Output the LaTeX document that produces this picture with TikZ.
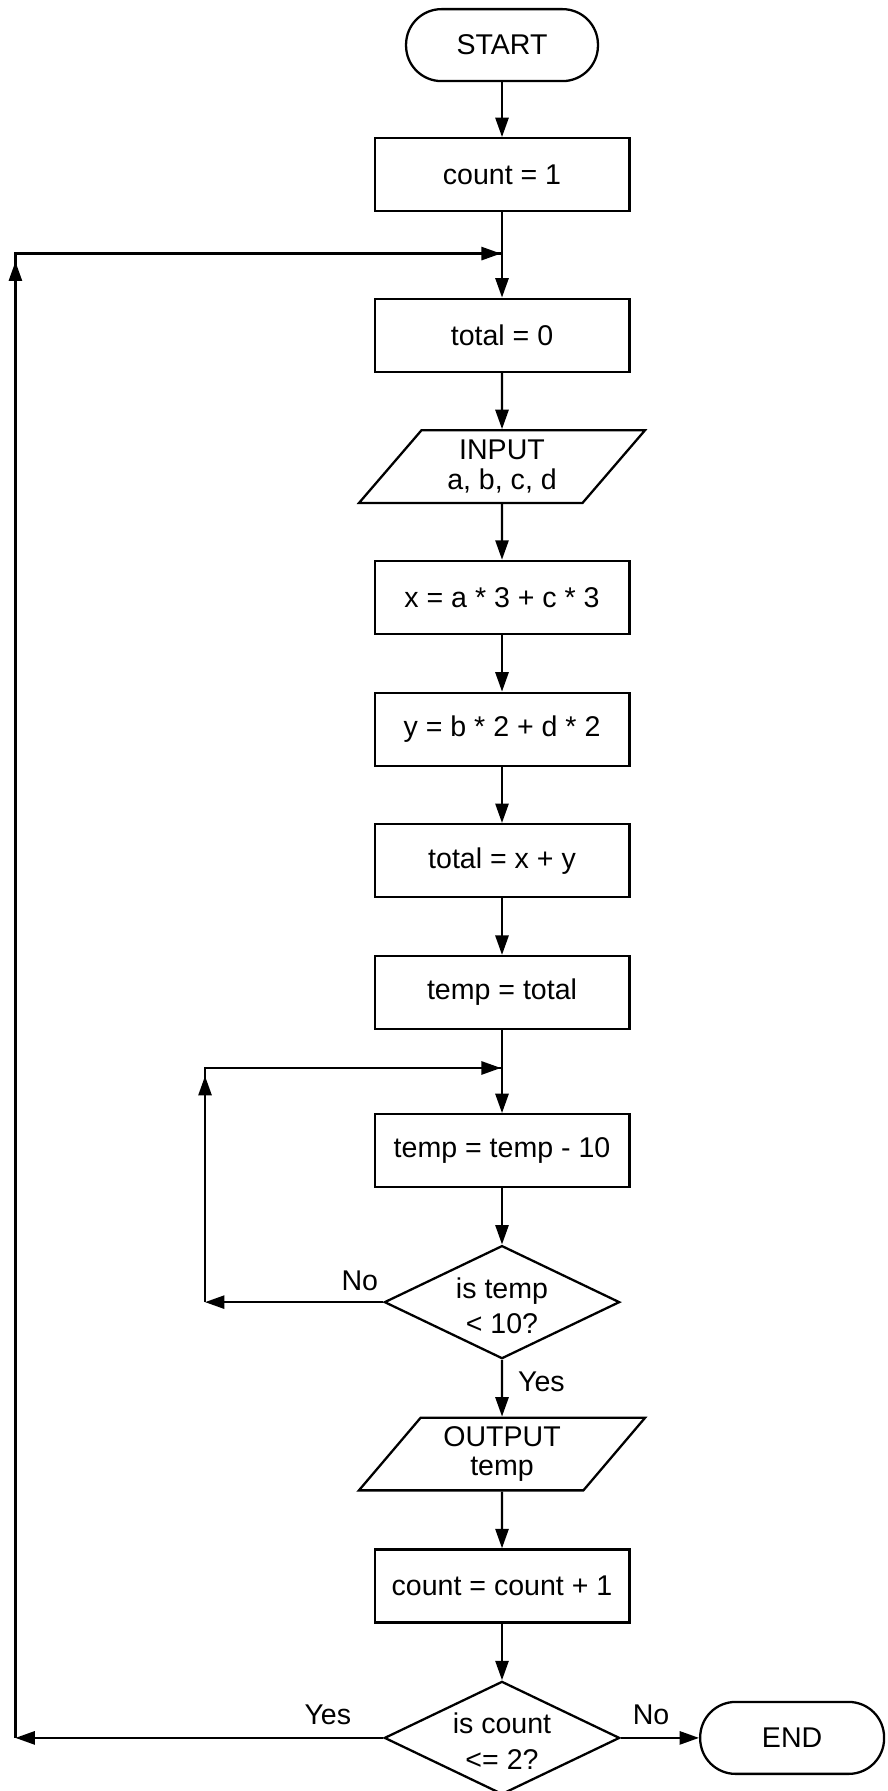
\documentclass[tikz,border=0pt]{standalone}
\usepackage{fontspec}
\setmainfont{Liberation Sans}
\usetikzlibrary{shapes.geometric,arrows.meta}
\begin{document}
\begin{tikzpicture}[x=1pt,y=-1pt,
  every node/.style={font=\fontsize{25}{26}\selectfont},
  proc/.style={draw,line width=2pt,minimum width=223pt,minimum height=64pt,inner sep=0pt},
  term/.style={draw,line width=2pt,rounded corners=31pt,minimum height=63pt,inner sep=0pt},
  io/.style={draw,line width=2pt,trapezium,trapezium left angle=51.3,trapezium right angle=128.7,
    trapezium stretches=true,minimum width=251pt,minimum height=63.6pt,inner sep=0pt,align=center},
  dec/.style={draw,line width=2pt,diamond,minimum width=206pt,minimum height=99pt,inner sep=0pt},
  dectext/.style={align=center,font=\fontsize{25}{31}\selectfont,inner sep=0pt,yshift=-3pt},
  flow/.style={line width=2pt,-{Triangle[length=17pt,width=11.5pt]}},
  plain/.style={line width=2pt},
  lbl/.style={inner sep=0pt}
]
\useasboundingbox (0,0) rectangle (777,1568);

\node[term,minimum width=168pt] (start) at (439.5,39.5) {START};
\node[proc] (c1) at (439.5,153) {count = 1};
\node[proc] (t0) at (439.5,293.5) {total = 0};
\node[io] (inp) at (439.5,408.5) {INPUT\\a, b, c, d};
\node[proc] (px) at (439.5,523) {x = a * 3 + c * 3};
\node[proc] (py) at (439.5,638.5) {y = b * 2 + d * 2};
\node[proc] (tot) at (439.5,753.5) {total = x + y};
\node[proc] (tmp) at (439.5,869) {temp = total};
\node[proc] (sub) at (439.5,1007.5) {temp = temp - 10};
\node[dec,label={[dectext]center:is temp\\< 10?}] (d1) at (439.5,1140) {};
\node[io] (out) at (439.5,1273) {OUTPUT\\temp};
\node[proc] (inc) at (439.5,1388.5) {count = count + 1};
\node[dec,label={[dectext]center:is count\\<= 2?}] (d2) at (439.5,1521.5) {};
\node[term,minimum width=161pt] (end) at (693.5,1521.5) {END};

\node[lbl] (no1) at (315,1121) {No};
\node[lbl] (yes1) at (474,1209.5) {Yes};
\node[lbl] (yes2) at (287,1501.5) {Yes};
\node[lbl] (no2) at (570,1501.5) {No};

\coordinate (j1) at (439.5,222);
\coordinate (lc) at (13.5,222);
\coordinate (lb) at (13.5,1521.5);
\coordinate (j2) at (439.5,935);
\coordinate (ic) at (179.5,935);
\coordinate (ib) at (179.5,1140);

\draw[flow] (start.south) -- (c1.north);
\draw[flow] (c1.south) -- (t0.north);
\draw[flow] (t0.south) -- (inp.north);
\draw[flow] (inp.south) -- (px.north);
\draw[flow] (px.south) -- (py.north);
\draw[flow] (py.south) -- (tot.north);
\draw[flow] (tot.south) -- (tmp.north);
\draw[flow] (tmp.south) -- (sub.north);
\draw[flow] (sub.south) -- (d1.north);
\draw[flow] (d1.south) -- (out.north);
\draw[flow] (out.south) -- (inc.north);
\draw[flow] (inc.south) -- (d2.north);
\draw[flow] (d2.east) -- (end.west);

% inner loop
\draw[flow] (d1.west) -- (ib);
\draw[plain] (ib) -- (ic) -- (j2);
\draw[flow] (ib) -- ([yshift=-7pt]ic);
\draw[flow] (ic) -- ([xshift=-1pt]j2);

% outer loop
\draw[flow] (d2.west) -- (lb);
\draw[plain] (lb) -- (lc) -- (j1);
\draw[flow] (lb) -- ([yshift=-7pt]lc);
\draw[flow] (lc) -- ([xshift=-1pt]j1);
\end{tikzpicture}
\end{document}
